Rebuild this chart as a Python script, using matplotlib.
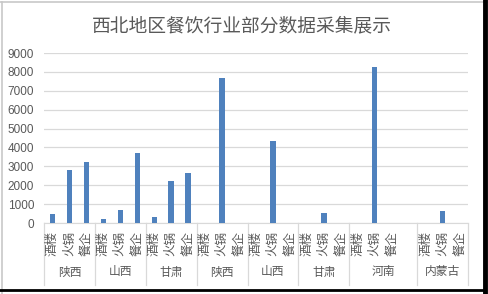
import matplotlib.pyplot as plt
import matplotlib.transforms as mtransforms

plt.rcParams['font.family'] = ['Noto Sans CJK SC', 'DejaVu Sans']

# data
groups = ['陕西', '山西', '甘肃', '陕西', '山西', '甘肃', '河南', '内蒙古']
group_cats = [
    ['酒楼', '火锅', '餐企'],
    ['酒楼', '火锅', '餐企'],
    ['酒楼', '火锅', '餐企'],
    ['酒楼', '火锅', '餐企'],
    ['酒楼', '火锅', '餐企'],
    ['酒楼', '火锅', '餐企'],
    ['酒楼', '火锅', '餐企', ''],
    ['酒楼', '火锅', '餐企'],
]
group_vals = [
    [480, 2800, 3250],
    [220, 700, 3720],
    [320, 2250, 2650],
    [0, 7700, 0],
    [0, 4350, 0],
    [0, 550, 0],
    [0, 8280, 0, 0],
    [0, 650, 0],
]
yticks = [0, 1000, 2000, 3000, 4000, 5000, 6000, 7000, 8000, 9000]

txt = '#595959'
grid = '#d9d9d9'
bar_c = '#4f81bd'

fig = plt.figure(figsize=(4.88, 2.94), dpi=100)
fig.patch.set_facecolor('white')

# outer frame like the screenshot
fig.add_artist(plt.Line2D([2/488, 2/488], [0, 1 - 2/294], color='#c8c8c8', lw=1.2))
fig.add_artist(plt.Line2D([0, 1], [1 - 2/294, 1 - 2/294], color='#c8c8c8', lw=1.2))
fig.add_artist(plt.Line2D([485/488, 485/488], [0, 1], color='black', lw=3.5))
fig.add_artist(plt.Line2D([0, 485/488], [1 - 290/294, 1 - 290/294], color='black', lw=2))

ax = fig.add_axes([44/488, 1 - 223/294, 424/488, 170/294])

# flatten categories
xs, vals, labels, bounds = [], [], [], [0]
pos = 0
for cats, vs in zip(group_cats, group_vals):
    for c, v in zip(cats, vs):
        xs.append(pos)
        vals.append(v)
        labels.append(c)
        pos += 1
    bounds.append(pos)
xs_c = [x + 0.5 for x in xs]

ax.bar(xs_c, vals, width=0.32, color=bar_c, zorder=3)
ax.set_xlim(0, pos)
ax.set_ylim(0, 9000)
ax.set_yticks(yticks)
ax.set_yticklabels([str(t) for t in yticks], family='Liberation Sans', fontsize=8.5, color=txt)
ax.tick_params(axis='y', length=0, pad=7)
ax.set_xticks([])
ax.grid(axis='y', color=grid, lw=0.9, zorder=0)
for s in ['top', 'right', 'left']:
    ax.spines[s].set_visible(False)
ax.spines['bottom'].set_color(grid)

trans = mtransforms.blended_transform_factory(ax.transData, ax.transAxes)
px = 1 / 170  # one pixel in axes units (vertical)
for b in bounds:
    ax.plot([b, b], [0, -62 * px], color=grid, lw=0.9, transform=trans, clip_on=False)
for x, lab in zip(xs_c, labels):
    ax.text(x, -20 * px, lab, rotation=90, ha='center', va='center', fontsize=9,
            color=txt, transform=trans)
for i, g in enumerate(groups):
    mid = (bounds[i] + bounds[i + 1]) / 2
    ax.text(mid, -49 * px, g, ha='center', va='center', fontsize=8.5, color=txt, transform=trans)

fig.text(242/488, 1 - 26/294, '西北地区餐饮行业部分数据采集展示', ha='center', va='center',
         fontsize=13.5, color=txt)

fig.savefig('out.png', dpi=100)
